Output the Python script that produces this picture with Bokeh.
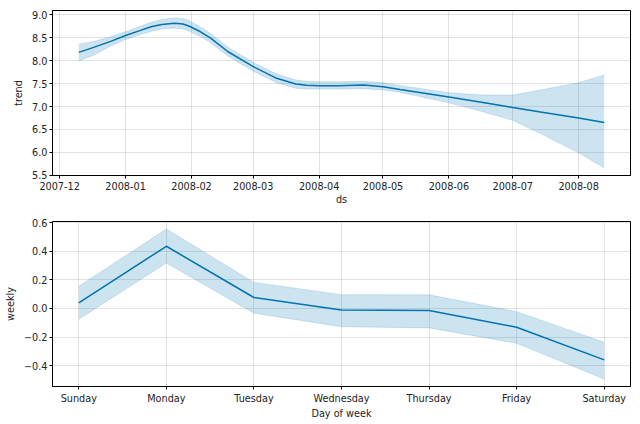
import pandas as pd
from bokeh.plotting import figure
from bokeh.layouts import column
from bokeh.models import FixedTicker, DatetimeTickFormatter, Range1d, CustomJSTickFormatter
from bokeh.embed import file_html
from bokeh.resources import INLINE

# ---- trend component ----
trend_dates = ["2007-12-10", "2007-12-17", "2007-12-25", "2008-01-01", "2008-01-08",
               "2008-01-13", "2008-01-18", "2008-01-24", "2008-01-28", "2008-01-31",
               "2008-02-05", "2008-02-10", "2008-02-18", "2008-03-01", "2008-03-12",
               "2008-03-21", "2008-03-26", "2008-04-01", "2008-04-10", "2008-04-22",
               "2008-05-01", "2008-05-09", "2008-06-01", "2008-06-17", "2008-07-01",
               "2008-07-14", "2008-08-01", "2008-08-13"]
trend = [8.18, 8.29, 8.42, 8.55, 8.66,
         8.74, 8.79, 8.815, 8.80, 8.75,
         8.635, 8.49, 8.20, 7.87, 7.615,
         7.49, 7.465, 7.455, 7.455, 7.47,
         7.43, 7.37, 7.21, 7.09, 6.98,
         6.88, 6.75, 6.65]
trend_upper = [8.36, 8.42, 8.52, 8.63, 8.75,
               8.84, 8.90, 8.93, 8.92, 8.87,
               8.74, 8.59, 8.30, 7.965, 7.71,
               7.58, 7.55, 7.54, 7.54, 7.55,
               7.52, 7.46, 7.30, 7.25, 7.25,
               7.36, 7.52, 7.69]
trend_lower = [7.99, 8.12, 8.32, 8.46, 8.57,
               8.64, 8.69, 8.71, 8.69, 8.64,
               8.53, 8.39, 8.10, 7.77, 7.52,
               7.40, 7.38, 7.38, 7.38, 7.39,
               7.36, 7.31, 7.08, 6.885, 6.70,
               6.41, 5.99, 5.66]
month_ticks = ["2007-12-01", "2008-01-01", "2008-02-01", "2008-03-01", "2008-04-01",
               "2008-05-01", "2008-06-01", "2008-07-01", "2008-08-01"]
trend_yticks = [5.5, 6.0, 6.5, 7.0, 7.5, 8.0, 8.5, 9.0]

# ---- weekly component ----
days = ["Sunday", "Monday", "Tuesday", "Wednesday", "Thursday", "Friday", "Saturday"]
weekly = [0.040, 0.436, 0.077, -0.010, -0.014, -0.131, -0.360]
weekly_upper = [0.155, 0.557, 0.183, 0.097, 0.096, -0.022, -0.236]
weekly_lower = [-0.075, 0.318, -0.033, -0.128, -0.136, -0.244, -0.494]
weekly_yticks = [-0.4, -0.2, 0.0, 0.2, 0.4, 0.6]

FONT = "DejaVu Sans"
FS = "9.7px"
COL = "#0072B2"


def style(p, xlabel, ylabel):
    p.outline_line_color = "black"
    p.outline_line_width = 1
    p.outline_line_alpha = 1
    p.background_fill_color = "white"
    p.border_fill_color = "white"
    p.xaxis.axis_label = xlabel
    p.yaxis.axis_label = ylabel
    for ax in (p.xaxis[0], p.yaxis[0]):
        ax.axis_label_text_font = FONT
        ax.axis_label_text_font_style = "normal"
        ax.axis_label_text_font_size = FS
        ax.axis_label_text_color = "#222222"
        ax.major_label_text_font = FONT
        ax.major_label_text_font_size = FS
        ax.major_label_text_color = "#222222"
        ax.major_tick_out = 3
        ax.major_tick_in = 0
        ax.minor_tick_out = 0
        ax.minor_tick_in = 0
        ax.axis_line_color = "black"
        ax.major_tick_line_color = "black"
    p.xaxis.axis_label_standoff = 1
    p.xaxis.major_label_standoff = 3
    p.yaxis.axis_label_standoff = 5
    p.yaxis.major_label_standoff = 2
    p.grid.grid_line_color = "gray"
    p.grid.grid_line_alpha = 0.22
    p.grid.grid_line_width = 1


# top figure
td = pd.to_datetime(trend_dates)
span = td.max() - td.min()
x0 = td.min() - span * 0.05
x1 = td.max() + span * 0.05
ymin, ymax = min(trend_lower), max(trend_upper)
yspan = ymax - ymin

p1 = figure(x_axis_type="datetime", frame_width=578, frame_height=165,
            min_border_left=52, min_border_right=10, min_border_top=10, min_border_bottom=40,
            toolbar_location=None, output_backend="svg",
            x_range=Range1d(x0, x1), y_range=Range1d(ymin - 0.05 * yspan, ymax + 0.05 * yspan))
p1.varea(x=td, y1=trend_lower, y2=trend_upper, fill_color=COL, fill_alpha=0.2)
p1.line(x=td, y=trend_upper, line_color=COL, line_alpha=0.15, line_width=1)
p1.line(x=td, y=trend_lower, line_color=COL, line_alpha=0.15, line_width=1)
p1.line(x=td, y=trend, line_color=COL, line_width=1.5)
p1.xaxis.ticker = FixedTicker(ticks=[pd.Timestamp(m).value / 1e6 for m in month_ticks])
fmt = "%Y-%m"
p1.xaxis.formatter = DatetimeTickFormatter(
    microseconds=fmt, milliseconds=fmt, seconds=fmt, minsec=fmt, minutes=fmt,
    hourmin=fmt, hours=fmt, days=fmt, months=fmt, years=fmt)
p1.yaxis.ticker = FixedTicker(ticks=trend_yticks)
p1.yaxis.formatter = CustomJSTickFormatter(code="return tick.toFixed(1).replace('-', '\\u2212');")
style(p1, "ds", "trend")

# bottom figure
xi = list(range(len(days)))
wmin, wmax = min(weekly_lower), max(weekly_upper)
wspan = wmax - wmin
nx = len(days) - 1
p2 = figure(frame_width=578, frame_height=165,
            min_border_left=52, min_border_right=10, min_border_top=6, min_border_bottom=38,
            toolbar_location=None, output_backend="svg",
            x_range=Range1d(-0.05 * nx, nx + 0.05 * nx),
            y_range=Range1d(wmin - 0.05 * wspan, wmax + 0.05 * wspan))
p2.varea(x=xi, y1=weekly_lower, y2=weekly_upper, fill_color=COL, fill_alpha=0.2)
p2.line(x=xi, y=weekly_upper, line_color=COL, line_alpha=0.15, line_width=1)
p2.line(x=xi, y=weekly_lower, line_color=COL, line_alpha=0.15, line_width=1)
p2.line(x=xi, y=weekly, line_color=COL, line_width=1.5)
p2.xaxis.ticker = FixedTicker(ticks=xi)
p2.xaxis.major_label_overrides = {i: d for i, d in enumerate(days)}
p2.yaxis.ticker = FixedTicker(ticks=weekly_yticks)
p2.yaxis.formatter = CustomJSTickFormatter(code="return tick.toFixed(1).replace('-', '\\u2212');")
style(p2, "Day of week", "weekly")

layout = column(p1, p2, spacing=0)
open("out.html", "w").write(file_html(layout, INLINE))
